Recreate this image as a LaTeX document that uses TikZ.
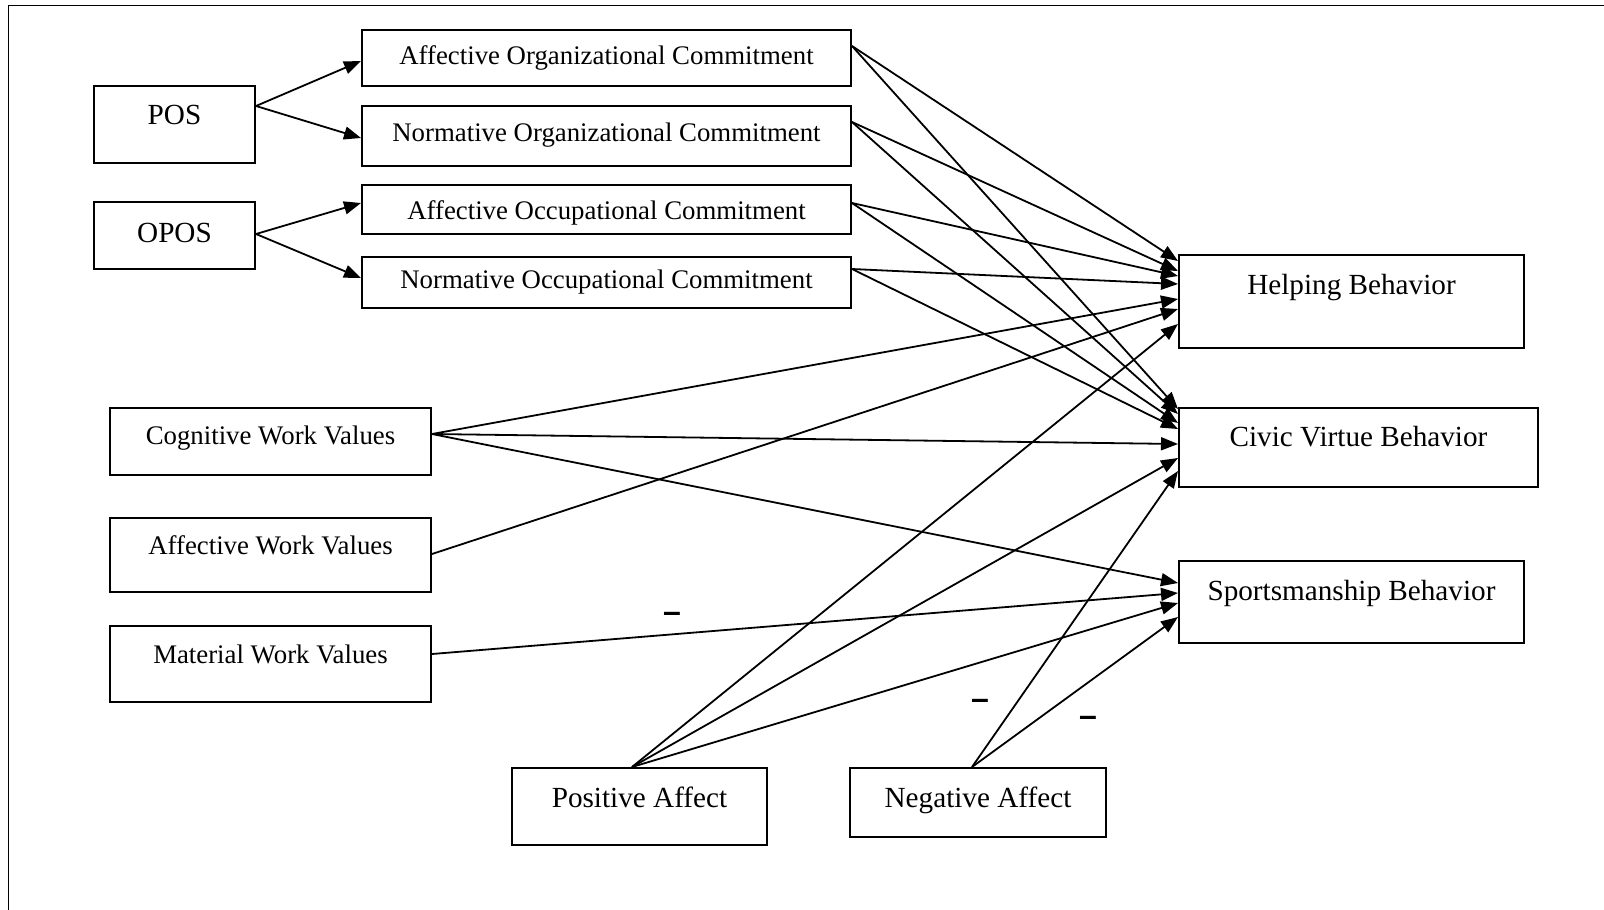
\documentclass[tikz,border=0pt]{standalone}
\usepackage{fontspec}
\setmainfont{Liberation Serif}
\setsansfont{Liberation Sans}
\usetikzlibrary{arrows.meta}

\begin{document}
\begin{tikzpicture}
[x=1pt,y=-1pt,
varnode/.style={draw,line width=2pt,rectangle,inner sep=0pt,anchor=north west,
font=\fontsize{29.2}{35}\selectfont},
smallnode/.style={varnode,font=\fontsize{26.8}{32}\selectfont},
signnode/.style={inner sep=0pt,anchor=base,font=\fontsize{32}{38}\selectfont\sffamily\bfseries},
link/.style={line width=1.8pt,-{Triangle[length=17pt,width=13pt]}},
framing/.style={line width=1.5pt}
]
\useasboundingbox (0,0) rectangle (1604,910);
\draw [framing] (8.5,940) -- (8.5,5.7) -- (1640,5.7);

\node [varnode,minimum width=161pt,text height=38pt,text depth=39pt] (pos) at (93,85) {POS};
\node [varnode,minimum width=161pt,text height=40pt,text depth=27pt] (opos) at (93,201) {OPOS};

\node [smallnode,minimum width=489pt,text height=34pt,text depth=22pt] (aoc) at (361,29) {Affective Organizational Commitment};
\node [smallnode,minimum width=489pt,text height=35pt,text depth=25pt] (noc) at (361,105) {Normative Organizational Commitment};
\node [smallnode,minimum width=489pt,text height=34pt,text depth=15pt] (afoc) at (361,184) {Affective Occupational Commitment};
\node [smallnode,minimum width=489pt,text height=31pt,text depth=20pt] (nooc) at (361,256) {Normative Occupational Commitment};

\node [smallnode,minimum width=321pt,text height=36pt,text depth=31pt] (cog) at (109,407) {Cognitive Work Values};
\node [smallnode,minimum width=321pt,text height=36pt,text depth=38pt] (afwv) at (109,517) {Affective Work Values};
\node [smallnode,minimum width=321pt,text height=37pt,text depth=39pt] (mawv) at (109,625) {Material Work Values};

\node [varnode,minimum width=255pt,text height=39pt,text depth=38pt] (posa) at (511,767) {Positive Affect};
\node [varnode,minimum width=256pt,text height=39pt,text depth=30pt] (nega) at (849,767) {Negative Affect};

\node [varnode,minimum width=345pt,text height=39pt,text depth=54pt] (help) at (1178,254) {Helping Behavior};
\node [varnode,minimum width=359pt,text height=38pt,text depth=41pt] (civic) at (1178,407) {Civic Virtue Behavior};
\node [varnode,minimum width=345pt,text height=39pt,text depth=43pt] (sport) at (1178,560) {Sportsmanship Behavior};

\draw [link] ([yshift=18.5pt]pos.east) -- ([yshift=-3pt]aoc.west);
\draw [link] ([yshift=18.5pt]pos.east) -- ([yshift=-2pt]noc.west);
\draw [link] ([yshift=1.5pt]opos.east) -- ([yshift=6.5pt]afoc.west);
\draw [link] ([yshift=1.5pt]opos.east) -- ([yshift=4.5pt]nooc.west);

\foreach \src/\ss/\dst/\ds in {aoc/12/help/40.5,aoc/12/civic/38.5,
noc/14/help/30.5,noc/14/civic/33.5,afoc/6.5/help/25.5,afoc/6.5/civic/24.5,
nooc/13.5/help/17.5,nooc/13.5/civic/18.5,cog/7.5/help/2.5,cog/7.5/civic/3.5,
cog/7.5/sport/19,afwv/1/help/-7.5,mawv/10/sport/9}
\draw [link] ([yshift=\ss pt]\src.east) -- ([yshift=\ds pt]\dst.west);

\foreach \dst/\ds in {help/-22.5,civic/-10.5,sport/-1}
\draw [link] ([xshift=-7.5pt]posa.north) -- ([yshift=\ds pt]\dst.west);
\foreach \dst/\ds in {civic/-23.5,sport/-15}
\draw [link] ([xshift=-6pt]nega.north) -- ([yshift=\ds pt]\dst.west);

\node [signnode] (minus1) at (672,622.6) {–};
\node [signnode] (minus2) at (980,709.6) {–};
\node [signnode] (minus3) at (1088,726.6) {–};
\end{tikzpicture}
\end{document}
